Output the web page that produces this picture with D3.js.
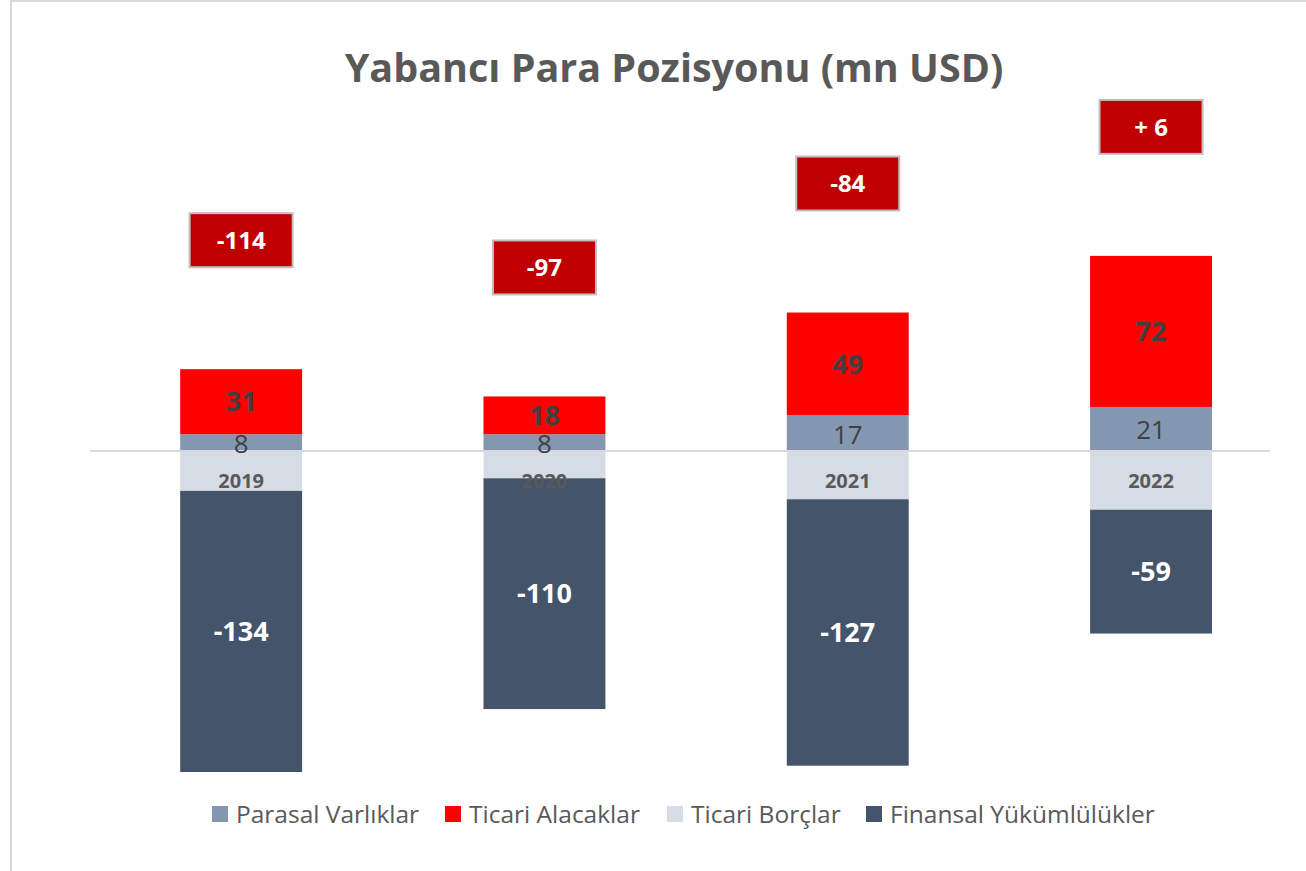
<!DOCTYPE html>
<html>
<head>
<meta charset="utf-8">
<script src="https://cdn.jsdelivr.net/npm/d3@7"></script>
<style>
  html, body { margin: 0; padding: 0; background: #fff; }
  svg { display: block; }
</style>
</head>
<body>
<svg id="chart" width="1306" height="871"></svg>
<script>
// Yabancı para pozisyonu, mn USD
const years = ["2019", "2020", "2021", "2022"];
const parasalVarliklar = [8, 8, 17, 21];
const ticariAlacaklar = [31, 18, 49, 72];
const ticariBorclar = [-19, -13, -23, -28];
const finansalYukumlulukler = [-134, -110, -127, -59];
const netPozisyon = [-114, -97, -84, 6];
const netLabels = ["-114", "-97", "-84", "+ 6"];

const seriesNames = ["Parasal Varlıklar", "Ticari Alacaklar", "Ticari Borçlar", "Finansal Yükümlülükler"];
const colors = ["#8497B0", "#FF0000", "#D6DCE5", "#44546A"];

const FONT = "'Open Sans', 'DejaVu Sans', sans-serif";
const TEXT = "#595959";

const svg = d3.select("#chart");
const W = 1306, H = 871;

svg.append("rect").attr("width", W).attr("height", H).attr("fill", "#fff");
// outer frame (left and top edges visible)
svg.append("rect")
  .attr("x", 11).attr("y", 1).attr("width", W + 20).attr("height", H + 20)
  .attr("fill", "none").attr("stroke", "#d9d9d9").attr("stroke-width", 2);

// title
svg.append("text")
  .attr("x", 674).attr("y", 82)
  .attr("text-anchor", "middle")
  .attr("font-family", FONT).attr("font-weight", 700).attr("font-size", 39.5)
  .attr("fill", TEXT)
  .text("Yabancı Para Pozisyonu (mn USD)");

// scales
const x = d3.scaleBand().domain(years).range([89.5, 1302.7]).padding(0);
const barW = x.bandwidth() * 0.402;
const y = d3.scaleLinear().domain([-160, 160]).range([451 + 160 * 2.098, 451 - 160 * 2.098]);

// stacked data: positives stack up from zero, negatives down from zero
const rows = years.map((yr, i) => ({
  year: yr,
  vals: [parasalVarliklar[i], ticariAlacaklar[i], ticariBorclar[i], finansalYukumlulukler[i]]
}));

const segments = [];
rows.forEach(r => {
  let pos = 0, neg = 0;
  r.vals.forEach((v, k) => {
    let y0, y1;
    if (v >= 0) { y0 = pos; y1 = pos + v; pos = y1; }
    else { y0 = neg; y1 = neg + v; neg = y1; }
    segments.push({ year: r.year, k, v, y0, y1 });
  });
  r.posTop = pos;
});

const g = svg.append("g");

g.selectAll("rect.seg").data(segments).join("rect")
  .attr("class", "seg")
  .attr("x", d => x(d.year) + (x.bandwidth() - barW) / 2)
  .attr("width", barW)
  .attr("y", d => y(Math.max(d.y0, d.y1)))
  .attr("height", d => Math.abs(y(d.y0) - y(d.y1)))
  .attr("fill", d => colors[d.k]);

// zero axis line
svg.append("line")
  .attr("x1", 90).attr("x2", 1270)
  .attr("y1", y(0)).attr("y2", y(0))
  .attr("stroke", "#d9d9d9").attr("stroke-width", 2);

// category labels just below the axis
svg.selectAll("text.cat").data(years).join("text")
  .attr("class", "cat")
  .attr("x", d => x(d) + x.bandwidth() / 2)
  .attr("y", y(0) + 37)
  .attr("text-anchor", "middle")
  .attr("font-family", FONT).attr("font-weight", 700).attr("font-size", 20)
  .attr("fill", TEXT)
  .text(d => d);

// segment value labels (Ticari Borçlar unlabeled)
const labelStyle = [
  { weight: 400, fill: "#404040", size: 26 },
  { weight: 700, fill: "#404040", size: 27 },
  null,
  { weight: 700, fill: "#ffffff", size: 27 }
];
svg.selectAll("text.val").data(segments.filter(d => labelStyle[d.k])).join("text")
  .attr("class", "val")
  .attr("x", d => x(d.year) + x.bandwidth() / 2)
  .attr("y", d => y((d.y0 + d.y1) / 2) + (d.k === 0 ? 1 : 0))
  .attr("dy", "0.36em")
  .attr("text-anchor", "middle")
  .attr("font-family", FONT)
  .attr("font-weight", d => labelStyle[d.k].weight)
  .attr("font-size", d => labelStyle[d.k].size)
  .attr("fill", d => labelStyle[d.k].fill)
  .text(d => d.v);

// net position callouts above each bar
const boxW = 103, boxH = 54;
const net = svg.selectAll("g.net").data(rows).join("g")
  .attr("class", "net")
  .attr("transform", (d) => `translate(${x(d.year) + x.bandwidth() / 2},${y(d.posTop) - 129})`);
net.append("rect")
  .attr("x", -boxW / 2).attr("y", -boxH / 2)
  .attr("width", boxW).attr("height", boxH)
  .attr("fill", "#C00000").attr("stroke", "#BFBFBF").attr("stroke-width", 2);
net.append("text")
  .attr("text-anchor", "middle").attr("dy", "0.36em")
  .attr("font-family", FONT).attr("font-weight", 700).attr("font-size", 24)
  .attr("fill", "#fff")
  .text((d, i) => netLabels[i]);

// legend
const legendX = [212, 445, 667, 866];
const lg = svg.selectAll("g.leg").data(seriesNames).join("g")
  .attr("class", "leg")
  .attr("transform", (d, i) => `translate(${legendX[i]},806)`);
lg.append("rect").attr("width", 16).attr("height", 16).attr("fill", (d, i) => colors[i]);
lg.append("text")
  .attr("x", 24).attr("y", 8).attr("dy", "0.36em")
  .attr("font-family", FONT).attr("font-size", 24.5)
  .attr("fill", TEXT)
  .text(d => d);
</script>
</body>
</html>
